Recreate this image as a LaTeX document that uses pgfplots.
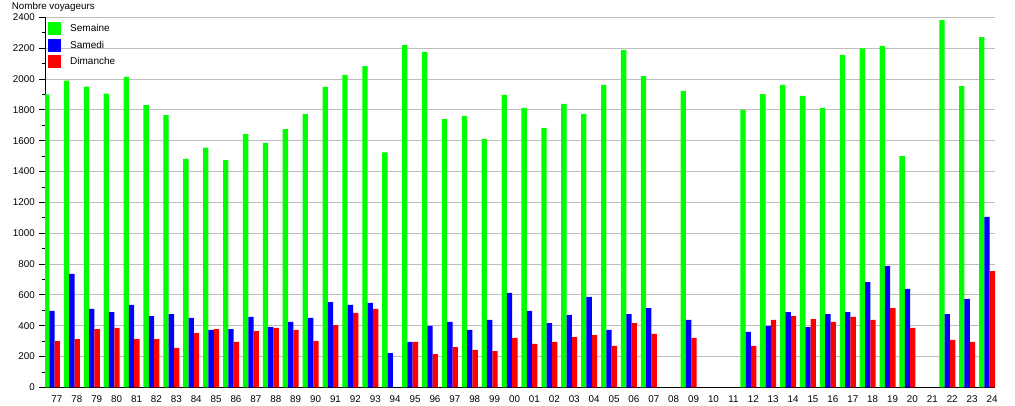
\documentclass[border=0pt]{standalone}
\usepackage{pgfplots}
\pgfplotsset{compat=1.18}
\usepackage{fontspec}
\setmainfont{Liberation Sans}
\definecolor{cgreen}{RGB}{0,255,0}
\definecolor{cblue}{RGB}{0,0,255}
\definecolor{cred}{RGB}{255,0,0}
\definecolor{cgrid}{RGB}{190,190,190}
\begin{document}
\begin{tikzpicture}
\begin{axis}[
  scale only axis,
  width=950pt, height=370pt,
  xmin=-0.60, xmax=47.15,
  ymin=0, ymax=2400,
  axis x line*=bottom, axis y line*=left,
  axis line style={black, line width=0.8pt},
  ytick distance=200,
  minor y tick num=1,
  tick align=outside,
  major tick length=5.7pt,
  minor tick length=3pt,
  tick style={black, line width=0.6pt},
  ymajorgrids,
  grid style={cgrid, line width=0.7pt},
  xtick={0,...,47},
  xtick style={draw=none},
  xticklabels={77,78,79,80,81,82,83,84,85,86,87,88,89,90,91,92,93,94,95,96,97,98,99,00,01,02,03,04,05,06,07,08,09,10,11,12,13,14,15,16,17,18,19,20,21,22,23,24},
  ticklabel style={font=\fontsize{9.8}{11}\selectfont},
  /pgf/number format/assume math mode=true,
  yticklabel style={xshift=-1pt},
  xticklabel style={yshift=1pt},
  scaled y ticks=false,
  y tick label style={/pgf/number format/1000 sep={}},
  legend style={at={(axis description cs:0,1)}, anchor=north west,
    xshift=2.7pt, yshift=-4.6pt, draw=none, fill=none, inner sep=0pt,
    font=\fontsize{10}{11}\selectfont, row sep=3.6pt,
    /tikz/every odd column/.append style={column sep=7pt}},
  legend cell align=left,
  legend image code/.code={\fill[#1] (0pt,-6.5pt) rectangle (13.3pt,6.5pt);},
]
\addplot[ybar, bar width=0.268, bar shift=-0.518, fill=cgreen, draw=none] coordinates {
(0,1900)(1,1990)(2,1950)(3,1905)(4,2013)(5,1831)(6,1766)(7,1481)(8,1554)(9,1474)
(10,1643)(11,1585)(12,1675)(13,1773)(14,1948)(15,2026)(16,2084)(17,1524)(18,2220)(19,2175)
(20,1740)(21,1760)(22,1611)(23,1896)(24,1812)(25,1682)(26,1838)(27,1773)(28,1961)(29,2188)
(30,2019)(32,1922)(35,1799)(36,1902)(37,1961)(38,1890)(39,1812)(40,2155)(41,2199)(42,2214)
(43,1500)(45,2382)(46,1954)(47,2272)};
\addlegendentry{Semaine}
\addplot[ybar, bar width=0.268, bar shift=-0.25, fill=cblue, draw=none] coordinates {
(0,495)(1,735)(2,508)(3,488)(4,534)(5,462)(6,475)(7,450)(8,372)(9,378)
(10,456)(11,391)(12,424)(13,450)(14,553)(15,534)(16,547)(17,222)(18,294)(19,398)
(20,424)(21,372)(22,437)(23,612)(24,495)(25,417)(26,469)(27,586)(28,372)(29,475)
(30,514)(32,437)(35,359)(36,398)(37,488)(38,391)(39,475)(40,488)(41,683)(42,787)
(43,638)(45,475)(46,573)(47,1105)};
\addlegendentry{Samedi}
\addplot[ybar, bar width=0.268, bar shift=0.018, fill=cred, draw=none] coordinates {
(0,300)(1,313)(2,378)(3,385)(4,313)(5,313)(6,255)(7,352)(8,378)(9,294)
(10,365)(11,385)(12,372)(13,300)(14,404)(15,482)(16,508)(18,294)(19,216)
(20,261)(21,242)(22,235)(23,320)(24,281)(25,294)(26,326)(27,339)(28,268)(29,417)
(30,346)(32,320)(35,268)(36,437)(37,462)(38,443)(39,424)(40,456)(41,437)(42,514)
(43,385)(45,307)(46,294)(47,754)};
\addlegendentry{Dimanche}
\coordinate (o) at (rel axis cs:0,0);
\coordinate (tl) at (rel axis cs:0,1);
\end{axis}
\node[anchor=west, inner sep=0pt, font=\fontsize{9.8}{11}\selectfont] at ([xshift=-33.3pt, yshift=10.6pt]tl) {Nombre voyageurs};
\path (o) ++(-45pt,-12.7pt) rectangle ++(1015pt,400pt);
\end{tikzpicture}
\end{document}
